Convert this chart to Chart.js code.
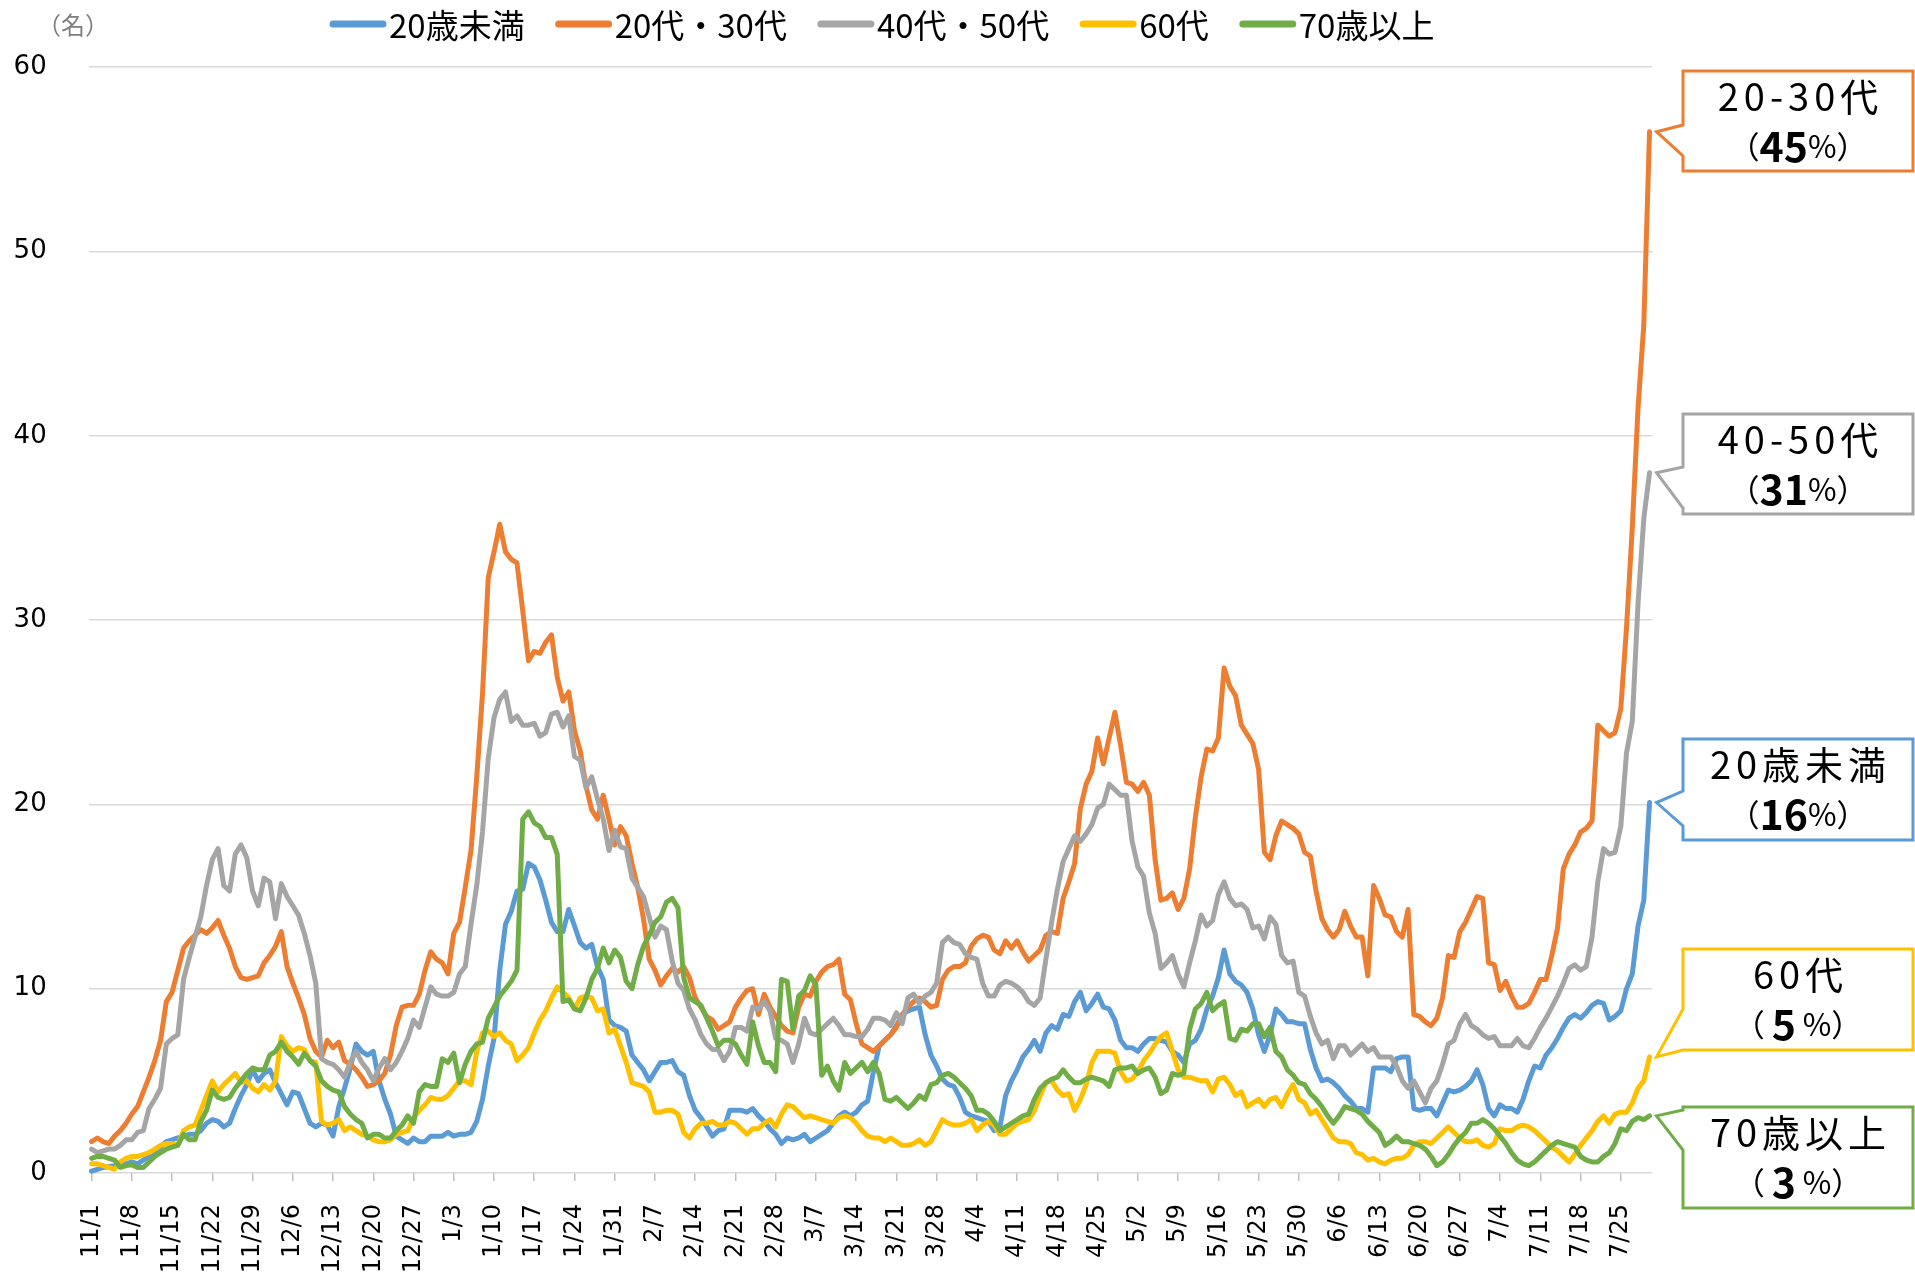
<!DOCTYPE html>
<html lang="ja">
<head>
<meta charset="utf-8">
<title>年代別 新規陽性者数（7日間移動平均）</title>
<script src="https://cdn.jsdelivr.net/npm/chart.js@4.4.1/dist/chart.umd.min.js"></script>
<style>
  html, body { margin: 0; padding: 0; background: #ffffff; }
  #wrap { position: relative; width: 1915px; height: 1278px; }
  canvas { display: block; }
</style>
</head>
<body>
<div id="wrap"><canvas id="c" width="1915" height="1278"></canvas></div>
<script>
// ---------------- data ----------------
const seriesNames = ["20歳未満", "20代・30代", "40代・50代", "60代", "70歳以上"];
const seriesColors = ["#5B9BD5", "#ED7D31", "#A5A5A5", "#FFC000", "#70AD47"];
const calloutTitles = ["20歳未満", "20-30代", "40-50代", "60代", "70歳以上"];
const calloutShares = ["（16%）", "（45%）", "（31%）", "（ 5 %）", "（ 3 %）"];
const unitLabel = "（名）";

const weekLabels = ["11/1","11/8","11/15","11/22","11/29","12/6","12/13","12/20","12/27",
  "1/3","1/10","1/17","1/24","1/31","2/7","2/14","2/21","2/28","3/7","3/14","3/21","3/28",
  "4/4","4/11","4/18","4/25","5/2","5/9","5/16","5/23","5/30","6/6","6/13","6/20","6/27",
  "7/4","7/11","7/18","7/25"];

const under20 = [
  0.1,0.2,0.3,0.35,0.4,0.5,0.5,0.6,0.5,0.7,
  0.9,1.2,1.4,1.7,1.8,1.9,2.0,2.1,2.1,2.3,
  2.7,2.9,2.8,2.5,2.7,3.5,4.2,4.8,5.6,5.0,
  5.4,5.6,4.9,4.3,3.7,4.4,4.3,3.5,2.7,2.5,
  2.7,2.6,2.0,3.6,4.6,5.7,7.0,6.6,6.4,6.6,
  5.0,4.0,3.2,2.0,1.8,1.6,1.9,1.7,1.7,2.0,
  2.0,2.0,2.2,2.0,2.1,2.1,2.2,2.8,4.0,5.8,
  7.3,11.0,13.5,14.2,15.3,15.4,16.8,16.6,15.9,14.8,
  13.6,13.1,13.1,14.3,13.4,12.5,12.2,12.4,11.2,10.5,
  8.3,8.0,7.9,7.7,6.4,6.0,5.6,5.0,5.5,6.0,
  6.0,6.1,5.5,5.3,4.2,3.4,3.0,2.5,2.0,2.3,
  2.4,3.4,3.4,3.4,3.3,3.5,3.1,2.8,2.4,2.1,
  1.6,1.9,1.8,1.9,2.1,1.7,1.9,2.1,2.3,2.7,
  3.1,3.3,3.1,3.3,3.7,3.9,5.5,6.9,7.2,7.5,
  8.0,8.6,8.8,8.9,9.0,7.5,6.4,5.8,5.1,4.8,
  4.7,4.1,3.3,3.1,3.0,2.9,2.8,2.3,2.5,4.2,
  5.0,5.6,6.3,6.7,7.2,6.6,7.6,8.0,7.8,8.6,
  8.5,9.3,9.8,8.8,9.2,9.7,9.0,8.9,8.3,7.2,
  6.8,6.8,6.6,7.0,7.3,7.3,7.2,7.1,6.6,6.4,
  6.0,7.0,7.2,7.8,8.9,9.6,10.6,12.1,10.8,10.4,
  10.2,9.8,8.9,7.5,6.6,7.5,8.9,8.6,8.2,8.2,
  8.1,8.1,6.7,5.7,5.0,5.1,4.9,4.6,4.2,3.9,
  3.5,3.5,3.3,5.7,5.7,5.7,5.5,6.2,6.3,6.3,
  3.5,3.4,3.5,3.5,3.1,3.8,4.5,4.4,4.5,4.7,
  5.0,5.6,4.8,3.5,3.1,3.7,3.5,3.5,3.3,4.0,
  5.0,5.8,5.7,6.4,6.8,7.3,7.9,8.4,8.6,8.4,
  8.7,9.1,9.3,9.2,8.3,8.5,8.8,10.0,10.8,13.4,
  14.8,20.1
];
const age20s30s = [
  1.7,1.9,1.7,1.6,2.0,2.3,2.7,3.2,3.6,4.4,
  5.2,6.1,7.2,9.3,9.8,11.0,12.2,12.6,12.9,13.2,
  13.0,13.3,13.7,12.9,12.2,11.2,10.6,10.5,10.6,10.7,
  11.4,11.8,12.3,13.1,11.2,10.3,9.5,8.6,7.3,6.6,
  6.3,7.2,6.8,7.1,6.1,5.9,5.6,5.2,4.7,4.8,
  5.0,5.4,6.4,8.0,9.0,9.1,9.1,9.7,11.0,12.0,
  11.6,11.4,10.8,13.0,13.6,15.5,17.5,21.5,26.0,32.3,
  33.7,35.2,33.7,33.3,33.1,30.5,27.8,28.3,28.2,28.8,
  29.2,26.9,25.6,26.1,24.0,22.9,21.0,19.7,19.2,20.5,
  19.2,17.8,18.8,18.3,16.8,15.5,13.8,11.6,11.0,10.2,
  10.7,11.1,10.9,11.2,10.6,9.5,9.0,8.5,8.3,7.8,
  8.0,8.2,9.0,9.5,9.9,10.0,8.6,9.7,9.0,8.5,
  8.0,7.7,7.6,9.0,9.7,9.6,10.4,10.9,11.2,11.3,
  11.6,9.7,9.4,8.1,7.0,6.8,6.6,6.9,7.2,7.5,
  7.9,8.6,9.0,9.3,9.5,9.3,9.0,9.1,10.5,11.0,
  11.2,11.2,11.4,12.3,12.7,12.9,12.8,12.1,11.9,12.6,
  12.2,12.6,12.0,11.5,11.8,12.1,12.9,13.1,13.0,14.9,
  15.8,16.8,19.8,21.1,21.8,23.6,22.2,23.6,25.0,23.2,
  21.2,21.1,20.7,21.2,20.5,17.0,14.8,14.9,15.2,14.3,
  14.9,16.5,19.3,21.5,23.0,22.9,23.6,27.4,26.4,25.9,
  24.3,23.8,23.3,21.9,17.4,17.0,18.3,19.1,18.9,18.7,
  18.4,17.4,17.2,15.3,13.8,13.2,12.8,13.2,14.2,13.4,
  12.8,12.8,10.7,15.6,14.9,14.0,13.9,13.1,12.8,14.3,
  8.6,8.5,8.2,8.0,8.4,9.5,11.8,11.7,13.1,13.6,
  14.3,15.0,14.9,11.4,11.3,9.9,10.4,9.6,9.0,9.0,
  9.2,9.8,10.5,10.5,11.8,13.3,16.5,17.3,17.8,18.5,
  18.7,19.1,24.3,24.0,23.7,23.9,25.2,29.6,35.0,41.5,
  46.0,56.5
];
const age40s50s = [
  1.3,1.1,1.2,1.3,1.3,1.5,1.8,1.8,2.2,2.3,
  3.5,4.0,4.6,7.0,7.3,7.5,10.5,11.7,12.8,13.9,
  15.6,17.0,17.6,15.6,15.3,17.3,17.8,17.1,15.3,14.5,
  16.0,15.8,13.8,15.7,15.0,14.5,14.0,13.0,11.8,10.3,
  6.2,6.0,5.9,5.6,5.2,6.0,6.6,6.0,5.6,5.0,
  5.7,6.2,5.6,6.0,6.6,7.3,8.3,7.9,9.0,10.1,
  9.7,9.6,9.6,9.8,10.8,11.2,13.5,15.6,18.5,22.5,
  24.7,25.7,26.1,24.5,24.8,24.3,24.3,24.4,23.7,23.9,
  24.9,25.0,24.2,24.8,22.6,22.4,20.9,21.5,20.3,19.2,
  17.5,18.6,17.7,17.6,16.0,15.5,15.0,13.9,12.8,13.4,
  13.2,11.5,10.3,9.9,8.9,8.3,7.5,7.0,6.7,6.7,
  6.1,6.6,7.9,7.9,7.7,9.0,8.9,9.3,8.8,7.3,
  7.2,7.0,6.0,7.0,8.4,7.6,7.5,7.8,8.1,8.4,
  8.0,7.5,7.5,7.4,7.4,7.8,8.4,8.4,8.3,8.0,
  8.7,8.1,9.5,9.7,9.2,9.6,9.8,10.3,12.5,12.8,
  12.5,12.4,11.9,11.7,11.6,10.3,9.6,9.6,10.2,10.4,
  10.3,10.1,9.8,9.3,9.1,9.5,11.6,13.6,15.4,16.9,
  17.6,18.3,18.0,18.4,18.9,19.8,20.0,21.1,20.8,20.5,
  20.5,18.0,16.6,16.1,14.1,13.0,11.1,11.4,11.8,10.8,
  10.1,11.4,12.6,14.0,13.4,13.7,15.1,15.8,14.9,14.5,
  14.6,14.3,13.3,13.4,12.7,13.9,13.5,11.8,11.4,11.5,
  9.8,9.6,8.5,7.6,7.0,7.2,6.2,6.9,6.9,6.4,
  6.7,7.0,6.6,6.8,6.3,6.3,6.3,5.8,5.0,4.6,
  5.0,4.4,3.8,4.6,5.0,5.9,7.0,7.2,8.1,8.6,
  8.0,7.8,7.5,7.3,7.4,6.9,6.9,6.9,7.3,6.9,
  6.8,7.3,7.9,8.4,9.0,9.6,10.3,11.1,11.3,11.0,
  11.2,12.8,15.8,17.6,17.3,17.4,18.8,22.8,24.5,30.9,
  35.5,38.0
];
const age60s = [
  0.5,0.5,0.4,0.3,0.2,0.6,0.8,0.9,0.9,1.0,
  1.1,1.3,1.5,1.6,1.6,1.5,2.3,2.5,2.6,3.4,
  4.2,5.0,4.4,4.8,5.1,5.4,4.9,5.0,4.6,4.4,
  4.8,4.5,5.0,7.4,6.9,6.6,6.8,6.7,6.1,6.0,
  2.8,2.6,2.7,2.9,2.3,2.5,2.3,2.1,2.0,1.8,
  1.7,1.7,1.8,2.1,2.2,2.3,3.0,3.4,3.7,4.1,
  4.0,4.0,4.2,4.6,5.0,5.0,4.8,6.6,7.6,7.7,
  7.4,7.6,7.2,7.0,6.1,6.4,6.8,7.6,8.3,8.8,
  9.5,10.1,9.8,9.5,8.9,9.5,9.6,9.5,8.8,8.9,
  7.6,7.8,6.9,6.0,4.9,4.8,4.7,4.4,3.3,3.3,
  3.4,3.4,3.2,2.2,1.9,2.4,2.7,2.7,2.8,2.6,
  2.6,2.8,2.7,2.4,2.1,2.4,2.4,2.7,2.9,2.5,
  3.2,3.7,3.6,3.3,3.0,3.1,3.0,2.9,2.8,2.7,
  3.0,3.1,3.0,2.7,2.3,2.0,1.9,1.9,1.7,1.9,
  1.7,1.5,1.5,1.6,1.8,1.5,1.7,2.3,2.9,2.7,
  2.6,2.6,2.7,2.9,2.3,2.6,2.8,2.6,2.1,2.1,
  2.4,2.7,2.8,2.9,3.4,4.2,4.9,5.0,4.5,4.2,
  4.3,3.4,4.0,4.8,6.0,6.6,6.6,6.6,6.5,5.5,
  5.0,5.1,5.5,6.1,6.5,7.0,7.4,7.6,6.6,5.6,
  5.2,5.2,5.1,5.0,5.0,4.4,5.1,5.2,4.8,4.2,
  4.4,3.6,3.8,4.0,3.6,4.0,4.1,3.6,4.3,4.8,
  4.0,3.8,3.2,3.4,2.9,2.4,1.9,1.7,1.7,1.6,
  1.1,1.0,0.7,0.8,0.6,0.5,0.7,0.8,0.8,1.0,
  1.5,1.7,1.7,1.6,1.9,2.2,2.5,2.2,1.9,1.7,
  1.7,1.8,1.5,1.4,1.6,2.4,2.3,2.3,2.5,2.6,
  2.5,2.3,2.0,1.7,1.4,1.2,0.9,0.6,1.0,1.5,
  1.9,2.3,2.8,3.1,2.7,3.2,3.3,3.3,3.8,4.6,
  5.0,6.3
];
const age70plus = [
  0.8,0.9,0.9,0.8,0.7,0.3,0.4,0.45,0.3,0.3,
  0.6,0.9,1.1,1.3,1.4,1.5,2.1,1.8,1.8,2.8,
  3.4,4.5,4.1,4.0,4.1,4.6,5.0,5.4,5.7,5.6,
  5.6,6.4,6.6,7.1,6.6,6.3,5.9,6.5,6.1,5.8,
  5.0,4.7,4.5,4.4,3.6,3.2,2.9,2.7,1.9,2.1,
  2.1,1.9,1.9,2.3,2.6,3.1,2.7,4.4,4.8,4.7,
  4.7,6.2,6.0,6.5,4.9,5.9,6.6,7.0,7.1,8.4,
  9.0,9.6,10.0,10.4,11.0,19.2,19.6,19.0,18.8,18.2,
  18.2,17.3,9.3,9.4,8.9,8.8,9.5,10.5,11.1,12.2,
  11.4,12.1,11.7,10.4,10.0,11.3,12.3,12.9,13.6,13.9,
  14.7,14.9,14.4,10.6,9.5,9.3,9.1,8.4,7.7,6.9,
  7.2,7.2,7.0,6.4,5.9,8.2,6.9,6.0,6.0,5.5,
  10.5,10.4,7.8,9.6,9.9,10.7,10.2,5.3,5.8,5.0,
  4.5,6.0,5.4,5.7,6.0,5.5,6.0,5.4,4.0,3.9,
  4.1,3.8,3.5,3.8,4.2,4.0,4.8,4.9,5.3,5.4,
  5.2,4.9,4.6,4.2,3.4,3.4,3.2,2.8,2.3,2.5,
  2.7,2.9,3.1,3.2,4.0,4.6,4.9,5.1,5.2,5.6,
  5.2,4.9,4.9,5.1,5.2,5.1,5.0,4.7,5.6,5.7,
  5.7,5.8,5.4,5.6,5.7,5.2,4.3,4.5,5.4,5.3,
  5.4,7.8,8.9,9.2,9.8,8.8,9.1,9.3,7.3,7.2,
  7.8,7.7,8.1,8.1,7.4,7.9,6.6,6.3,5.6,5.3,
  4.9,4.8,4.3,4.0,3.6,3.1,2.7,3.1,3.6,3.5,
  3.4,3.2,2.8,2.5,2.2,1.5,1.7,2.0,1.7,1.7,
  1.6,1.5,1.3,0.9,0.4,0.6,1.0,1.5,1.9,2.2,
  2.7,2.7,2.9,2.7,2.4,2.0,1.6,1.1,0.7,0.5,
  0.4,0.6,0.9,1.2,1.5,1.7,1.6,1.5,1.4,0.9,
  0.7,0.6,0.6,0.9,1.1,1.6,2.4,2.3,2.8,3.0,
  2.9,3.1
];

// daily categories 11/1 .. 7/30
const monthLengths = [[11,30],[12,31],[1,31],[2,28],[3,31],[4,30],[5,31],[6,30],[7,31]];
const dates = [];
for (const [m, len] of monthLengths) {
  for (let d = 1; d <= len && dates.length < under20.length; d++) dates.push(m + "/" + d);
}

const seriesData = [under20, age20s30s, age40s50s, age60s, age70plus];
// later series are drawn on top (as in the original)
const drawOrder = [5, 4, 3, 2, 1];

// ---------------- decorations (legend, unit, callouts) ----------------
const calloutBoxes = [
  { top: 739, bottom: 840, b1: 791, b2: 826 },
  { top: 71,  bottom: 171, b1: 125, b2: 156 },
  { top: 414, bottom: 514, b1: 467, b2: 508 },
  { top: 949, bottom: 1050, b1: 1009, b2: 1050 },
  { top: 1107, bottom: 1208, b1: 1110, b2: 1150 }
];

const deco = {
  id: 'deco',
  afterDraw(chart) {
    const ctx = chart.ctx;
    ctx.save();
    // unit label
    ctx.fillStyle = '#7F7F7F';
    ctx.font = '24px "Noto Sans CJK JP"';
    ctx.textBaseline = 'middle';
    ctx.textAlign = 'left';
    ctx.fillText(unitLabel, 37, 25);

    // legend
    ctx.font = '33px "Noto Sans CJK JP"';
    let x = 333;
    const ly = 24;
    chart.data.datasets.forEach((ds) => {
      ctx.strokeStyle = ds.borderColor;
      ctx.lineWidth = 7;
      ctx.lineCap = 'round';
      ctx.beginPath();
      ctx.moveTo(x, ly);
      ctx.lineTo(x + 50, ly);
      ctx.stroke();
      ctx.fillStyle = '#000000';
      ctx.fillText(ds.label, x + 56, ly + 1);
      x += 56 + ctx.measureText(ds.label).width + 34;
    });

    // callouts
    const L = 1683, R = 1913;
    chart.data.datasets.forEach((ds, k) => {
      const meta = chart.getDatasetMeta(k);
      const pt = meta.data[meta.data.length - 1];
      const tipX = pt.x + 7, tipY = pt.y;
      const bx = calloutBoxes[k];
      ctx.beginPath();
      ctx.moveTo(L, bx.top);
      ctx.lineTo(R, bx.top);
      ctx.lineTo(R, bx.bottom);
      ctx.lineTo(L, bx.bottom);
      ctx.lineTo(L, bx.b2);
      ctx.lineTo(tipX, tipY);
      ctx.lineTo(L, bx.b1);
      ctx.closePath();
      ctx.fillStyle = '#FFFFFF';
      ctx.fill();
      ctx.strokeStyle = ds.borderColor;
      ctx.lineWidth = 3;
      ctx.lineJoin = 'miter';
      ctx.lineCap = 'butt';
      ctx.stroke();

      const cx = (L + R) / 2;
      ctx.fillStyle = '#000000';
      ctx.textAlign = 'left';
      ctx.textBaseline = 'middle';
      ctx.font = '38px "Noto Sans CJK JP"';
      ctx.letterSpacing = '5px';
      const t1 = calloutTitles[k];
      const w1 = ctx.measureText(t1).width;
      ctx.fillText(t1, cx - (w1 - 5) / 2, bx.top + 26);
      ctx.letterSpacing = '0px';

      // second line: digits bold
      const parts = calloutShares[k].split(/(\d+)/).filter(s => s.length);
      const fonts = parts.map(p => /^\d+$/.test(p) ? 'bold 41px "Noto Sans CJK JP"' : '31px "Noto Sans CJK JP"');
      let tw = 0;
      const ws = parts.map((p, i) => { ctx.font = fonts[i]; const w = ctx.measureText(p).width; tw += w; return w; });
      let px = cx - tw / 2;
      parts.forEach((p, i) => {
        ctx.font = fonts[i];
        ctx.fillText(p, px, bx.top + 75);
        px += ws[i];
      });
    });
    ctx.restore();
  }
};

// ---------------- chart ----------------
const chart = new Chart(document.getElementById('c').getContext('2d'), {
  type: 'line',
  data: {
    labels: dates,
    datasets: seriesNames.map((name, k) => ({
      label: name,
      data: seriesData[k],
      borderColor: seriesColors[k],
      backgroundColor: seriesColors[k],
      borderWidth: 5,
      pointRadius: 0,
      pointHoverRadius: 0,
      tension: 0,
      fill: false,
      borderJoinStyle: 'round',
      borderCapStyle: 'round',
      order: drawOrder[k],
      clip: 10
    }))
  },
  options: {
    responsive: false,
    animation: false,
    devicePixelRatio: 1,
    layout: { padding: { top: 67.2, right: 262.6, left: 0, bottom: 0 } },
    plugins: { legend: { display: false }, tooltip: { enabled: false } },
    scales: {
      x: {
        type: 'category',
        offset: true,
        border: { display: false },
        grid: {
          display: true,
          drawOnChartArea: false,
          drawTicks: true,
          tickLength: 8,
          offset: false,
          lineWidth: 1.5,
          color: '#BFBFBF'
        },
        ticks: {
          autoSkip: false,
          minRotation: 90,
          maxRotation: 90,
          padding: 23,
          color: '#000000',
          font: { family: '"DejaVu Sans", Verdana, sans-serif', size: 24 },
          callback: (v, i) => (i % 7 === 0 ? weekLabels[i / 7] : null)
        },
        afterFit: (s) => { s.height = 105; }
      },
      y: {
        min: 0,
        max: 60,
        border: { display: false },
        grid: { color: '#D9D9D9', lineWidth: 1.5, drawTicks: false },
        ticks: {
          stepSize: 10,
          padding: 42,
          color: '#000000',
          font: { family: '"DejaVu Sans", Verdana, sans-serif', size: 26 }
        },
        afterFit: (s) => { s.width = 88.7; }
      }
    }
  },
  plugins: [deco]
});
</script>
</body>
</html>
